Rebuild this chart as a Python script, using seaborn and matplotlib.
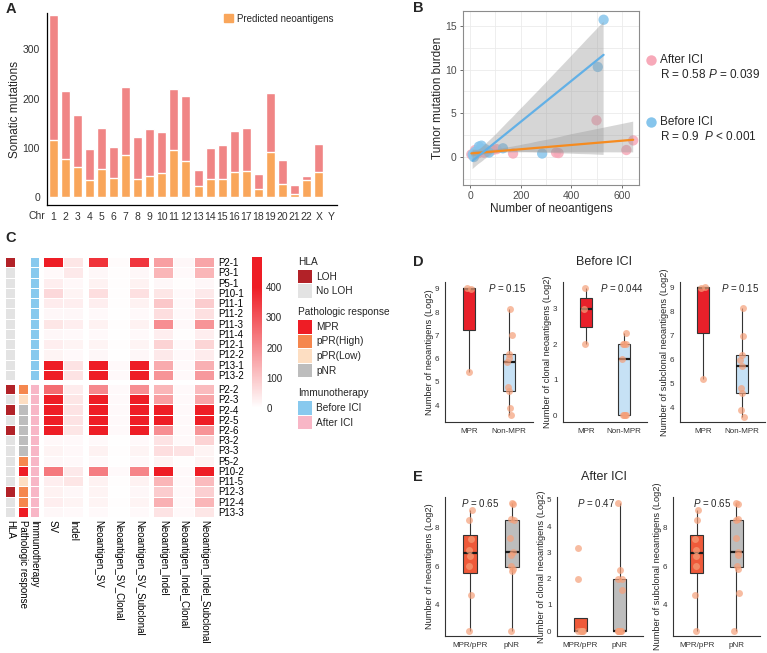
import numpy as np
import pandas as pd
import matplotlib
matplotlib.use('Agg')
import matplotlib.pyplot as plt
import seaborn as sns
from matplotlib.colors import ListedColormap, LinearSegmentedColormap
from matplotlib.patches import Rectangle
from matplotlib.transforms import blended_transform_factory

sns.set_style('white')
plt.rcParams['font.family'] = ['Liberation Sans', 'DejaVu Sans']
plt.rcParams['mathtext.fontset'] = 'custom'
plt.rcParams['mathtext.rm'] = 'Liberation Sans'
plt.rcParams['mathtext.it'] = 'Liberation Sans:italic'

# ---- panel A data
chroms = ['1', '2', '3', '4', '5', '6', '7', '8', '9', '10', '11', '12', '13', '14',
          '15', '16', '17', '18', '19', '20', '21', '22', 'X', 'Y']
somatic = [370, 215, 167, 98, 141, 102, 224, 122, 138, 133, 220, 205, 55, 99,
           105, 135, 140, 46, 212, 76, 25, 42, 107, 1]
neoantigens = [117, 77, 62, 35, 58, 38, 85, 36, 43, 48, 96, 73, 23, 37,
               36, 51, 54, 17, 91, 27, 7, 34, 51, 0]

# ---- panel B data
before_neo = [10, 15, 20, 35, 45, 60, 75, 130, 285, 505, 528, 40]
before_tmb = [0.3, 0.0, 0.6, 1.2, 1.3, 0.9, 0.5, 1.0, 0.4, 10.3, 15.7, 0.8]
after_neo = [5, 20, 55, 90, 105, 170, 340, 350, 500, 618, 645, 70, 30]
after_tmb = [0.3, 0.8, 0.5, 0.8, 0.9, 0.4, 0.5, 0.45, 4.2, 0.8, 1.9, 0.6, 0.4]

# ---- panel C data
samples_before = ['P2-1', 'P3-1', 'P5-1', 'P10-1', 'P11-1', 'P11-2', 'P11-3', 'P11-4',
                  'P12-1', 'P12-2', 'P13-1', 'P13-2']
samples_after = ['P2-2', 'P2-3', 'P2-4', 'P2-5', 'P2-6', 'P3-2', 'P3-3', 'P5-2',
                 'P10-2', 'P11-5', 'P12-3', 'P12-4', 'P13-3']
features = ['SV', 'Indel', 'Neoantigen_SV', 'Neoantigen_SV_Clonal', 'Neoantigen_SV_Subclonal',
            'Neoantigen_Indel', 'Neoantigen_Indel_Clonal', 'Neoantigen_Indel_Subclonal']
sv = [450, 10, 30, 70, 35, 15, 45, 15, 30, 20, 480, 480,
      260, 480, 480, 480, 480, 12, 20, 15, 240, 30, 25, 30, 15]
indel = [45, 40, 12, 20, 30, 15, 30, 10, 20, 10, 50, 50,
         35, 45, 50, 50, 45, 10, 12, 10, 40, 45, 15, 20, 10]
neo_sv = [360, 15, 25, 60, 30, 10, 25, 10, 20, 15, 480, 480,
          210, 480, 480, 480, 480, 10, 25, 10, 230, 25, 20, 20, 10]
neo_sv_clonal = [8, 5, 5, 5, 5, 3, 5, 3, 5, 3, 10, 10,
                 10, 10, 10, 10, 10, 3, 5, 3, 10, 5, 3, 5, 3]
neo_sv_subclonal = [355, 15, 25, 55, 25, 10, 25, 10, 20, 15, 470, 470,
                    200, 470, 470, 470, 470, 10, 20, 10, 215, 25, 15, 20, 10]
neo_indel = [170, 130, 15, 45, 100, 60, 200, 30, 80, 40, 150, 190,
             130, 170, 450, 450, 200, 50, 60, 20, 470, 130, 90, 140, 50]
neo_indel_clonal = [15, 10, 5, 10, 10, 10, 10, 5, 10, 10, 10, 10,
                    10, 10, 10, 10, 10, 10, 50, 5, 10, 10, 10, 10, 10]
neo_indel_subclonal = [160, 130, 15, 40, 90, 55, 190, 30, 75, 35, 140, 180,
                       120, 160, 440, 440, 190, 80, 20, 20, 460, 120, 85, 130, 45]
hla = ['LOH'] + ['No LOH'] * 11 + ['LOH', 'No LOH', 'LOH', 'No LOH', 'LOH', 'No LOH', 'No LOH',
                                    'No LOH', 'No LOH', 'No LOH', 'LOH', 'No LOH', 'No LOH']
response = [None] * 12 + ['pPR(High)', 'pPR(Low)', 'pNR', 'pNR', 'pNR', 'pNR', 'pNR', 'pPR(High)',
                          'MPR', 'pPR(Low)', 'pPR(High)', 'pPR(High)', 'MPR']
immuno = ['Before ICI'] * 12 + ['After ICI'] * 13

# ---- panel D / E data (log2)
d_neo_mpr = [9.05, 9.0, 5.45]
d_neo_non = [8.15, 7.0, 6.2, 6.05, 5.85, 4.8, 4.6, 3.9, 3.6]
d_clo_mpr = [3.6, 3.0, 2.0]
d_clo_non = [2.32, 2.0, 2.0, 2.0, 1.58, 0, 0, 0, 0]
d_sub_mpr = [9.05, 9.0, 5.2]
d_sub_non = [8.15, 7.0, 6.2, 6.0, 5.75, 4.8, 4.6, 3.9, 3.6]
e_neo_mp = [8.95, 8.4, 7.4, 6.85, 6.55, 6.0, 4.45, 2.6]
e_neo_pnr = [9.3, 9.25, 8.45, 8.4, 7.45, 6.75, 6.6, 6.0, 5.85, 5.75, 2.6]
e_clo_mp = [3.15, 2.0, 0, 0, 0, 0, 0, 0]
e_clo_pnr = [4.9, 2.32, 2.0, 2.0, 1.58, 0, 0, 0, 0, 0, 0]
e_sub_mp = [8.95, 8.4, 7.4, 6.85, 6.55, 6.0, 4.45, 2.6]
e_sub_pnr = [9.3, 9.25, 8.45, 8.4, 7.45, 6.75, 6.6, 6.0, 5.85, 4.6, 2.6]

W, H = 767, 653
fig = plt.figure(figsize=(W / 100, H / 100), dpi=100)


def add_ax(l, t, w, h):
    return fig.add_axes([l / W, 1 - (t + h) / H, w / W, h / H])


dark = '#333333'

# ================= A
axA = add_ax(47, 13, 290, 192)
sns.barplot(x=chroms, y=somatic, order=chroms, color='#F08585', width=0.75, saturation=1, ax=axA)
sns.barplot(x=chroms, y=neoantigens, order=chroms, color='#F9A65B', width=0.75, saturation=1, ax=axA)
axA.set_xlim(-0.5, 23.5)
axA.set_ylim(-16, 374)
axA.set_yticks([0, 100, 200, 300])
sns.despine(ax=axA)
for s in ['left', 'bottom']:
    axA.spines[s].set_color('black')
    axA.spines[s].set_linewidth(0.9)
axA.tick_params(length=3, width=0.8, labelsize=7.5, colors=dark, pad=2)
axA.set_ylabel('Somatic mutations', fontsize=8.5)
axA.yaxis.set_label_coords(-0.088, 0.5)
axA.set_xlabel('')
tr = blended_transform_factory(axA.transData, axA.transAxes)
axA.text(-1.35, -0.033, 'Chr', transform=tr, ha='center', va='top', fontsize=7.5, color=dark)
axA.legend(handles=[Rectangle((0, 0), 1, 1, color='#F9A65B')], labels=['Predicted neoantigens'],
           loc='upper left', bbox_to_anchor=(215 / W, 1 - 5 / H), bbox_transform=fig.transFigure,
           frameon=False, fontsize=7, handlelength=0.9, handleheight=0.9, handletextpad=0.5)

# ================= B
axB = add_ax(463, 11, 176, 174)
sns.scatterplot(x=after_neo, y=after_tmb, color='#F7A9B9', s=55, alpha=0.85, edgecolor='none', ax=axB)
sns.scatterplot(x=before_neo, y=before_tmb, color='#86C5EC', s=55, alpha=0.85, edgecolor='none', ax=axB)
for xs, ys, c in [(after_neo, after_tmb, '#F68B1F'), (before_neo, before_tmb, '#62B0E6')]:
    n = len(axB.collections)
    sns.regplot(x=xs, y=ys, scatter=False, color=c, seed=3, ax=axB, line_kws={'linewidth': 1.6})
    for coll in axB.collections[n:]:
        coll.set_facecolor('#9A9A9A')
        coll.set_alpha(0.4)
        coll.set_edgecolor('none')
axB.set_xlim(-28, 668)
axB.set_ylim(-3.2, 16.7)
axB.set_xticks([0, 200, 400, 600])
axB.set_xticks([100, 300, 500], minor=True)
axB.set_yticks([0, 5, 10, 15])
axB.set_yticks([-2.5, 2.5, 7.5, 12.5], minor=True)
axB.grid(which='both', color='#EBEBEB', linewidth=0.6)
axB.set_axisbelow(True)
for s in axB.spines.values():
    s.set_color('#8C8C8C')
    s.set_linewidth(0.8)
axB.tick_params(which='major', length=2.5, width=0.6, color='#555555', labelsize=7.5,
                labelcolor='#4D4D4D', pad=2, bottom=True, left=True)
axB.tick_params(which='minor', length=0)
axB.set_xlabel('Number of neoantigens', fontsize=8.5, labelpad=1)
axB.set_ylabel('Tumor mutation burden', fontsize=8.5)
axB.yaxis.set_label_coords(-0.11, 0.5)

# ================= C heatmap
mat = pd.DataFrame(dict(zip(features, [sv, indel, neo_sv, neo_sv_clonal, neo_sv_subclonal,
                                       neo_indel, neo_indel_clonal, neo_indel_subclonal])),
                   index=samples_before + samples_after)
hm_cmap = LinearSegmentedColormap.from_list('wr', [(0, '#FFFFFF'), (0.8, '#EE1D25'), (1, '#EE1D25')])

hla_levels = ['LOH', 'No LOH']
hla_colors = ['#B22228', '#E3E3E3']
resp_levels = ['MPR', 'pPR(High)', 'pPR(Low)', 'pNR']
resp_colors = ['#EE1D25', '#F5874E', '#FDDEC2', '#BDBDBD']
imm_levels = ['Before ICI', 'After ICI']
imm_colors = ['#88C9EE', '#F8B6C6']

annos = [(5, 10, 'HLA', hla, hla_levels, hla_colors),
         (18, 10, 'Pathologic response', response, resp_levels, resp_colors),
         (30, 9, 'Immunotherapy', immuno, imm_levels, imm_colors)]
col_blocks = [(43, 40, features[0:2]), (88, 61, features[2:5]), (153, 61, features[5:8])]
row_blocks = [(257, 123, samples_before), (384, 133, samples_after)]
gridlw = 0.5

mesh = None
for ri, (top, hgt, rows) in enumerate(row_blocks):
    last_row = ri == len(row_blocks) - 1
    for left, wid, name, vals, levels, colors in annos:
        codes = pd.Series(vals, index=samples_before + samples_after).map(
            {lv: i for i, lv in enumerate(levels)}).astype(float)
        df = pd.DataFrame({name: codes.loc[rows]})
        ax = add_ax(left, top, wid, hgt)
        sns.heatmap(df, ax=ax, cmap=ListedColormap(colors), vmin=-0.5, vmax=len(levels) - 0.5,
                    cbar=False, linewidths=gridlw, linecolor='white',
                    xticklabels=last_row, yticklabels=False)
        ax.set_ylabel('')
        ax.tick_params(length=0, pad=2)
        if last_row:
            ax.tick_params(axis='x', labelrotation=270, labelsize=7, labelcolor='black')
    for bi, (left, wid, cols) in enumerate(col_blocks):
        ax = add_ax(left, top, wid, hgt)
        sns.heatmap(mat.loc[rows, cols], ax=ax, cmap=hm_cmap, vmin=0, vmax=500, cbar=False,
                    linewidths=gridlw, linecolor='white', xticklabels=last_row,
                    yticklabels=(bi == len(col_blocks) - 1))
        mesh = ax.collections[0]
        ax.tick_params(length=0, pad=2)
        if last_row:
            ax.tick_params(axis='x', labelrotation=270, labelsize=7, labelcolor='black')
        if bi == len(col_blocks) - 1:
            ax.yaxis.tick_right()
            ax.tick_params(axis='y', labelrotation=0, labelsize=7, labelcolor='black', pad=3)

cax = add_ax(252, 257, 10, 151)
cb = fig.colorbar(mesh, cax=cax, ticks=[0, 100, 200, 300, 400])
cb.outline.set_visible(False)
cax.tick_params(length=0, labelsize=7, pad=3)

# ================= D / E boxplots
box_specs = [
    # left, top, width, height, groups, values, colors, ylabel, ylim, yticks, p text, p x
    (445, 282, 88, 140, ['MPR', 'Non-MPR'], (d_neo_mpr, d_neo_non), ['#E8202A', '#C6E1F5'],
     'Number of neoantigens (Log2)', (3.28, 9.3), [4, 5, 6, 7, 8, 9], '0.15', 0.95, 0.955),
    (563, 282, 84, 140, ['MPR', 'Non-MPR'], (d_clo_mpr, d_clo_non), ['#E8202A', '#C6E1F5'],
     'Number of clonal neoantigens (Log2)', (-0.19, 3.76), [0, 1, 2, 3], '0.044', 0.94, 0.955),
    (680, 282, 85, 140, ['MPR', 'Non-MPR'], (d_sub_mpr, d_sub_non), ['#E8202A', '#C6E1F5'],
     'Number of subclonal neoantigens (Log2)', (3.39, 9.25), [4, 5, 6, 7, 8, 9], '0.15', 0.95, 0.955),
    (445, 497, 92, 139, ['MPR/pPR', 'pNR'], (e_neo_mp, e_neo_pnr), ['#EF5A3A', '#BDBDBD'],
     'Number of neoantigens (Log2)', (2.32, 9.63), [4, 6, 8], '0.65', 0.24, 0.955),
    (557, 497, 86, 139, ['MPR/pPR', 'pNR'], (e_clo_mp, e_clo_pnr), ['#EF5A3A', '#BDBDBD'],
     'Number of clonal neoantigens (Log2)', (-0.19, 5.11), [0, 1, 2, 3, 4, 5], '0.47', 0.4, 0.955),
    (673, 497, 87, 139, ['MPR/pPR', 'pNR'], (e_sub_mp, e_sub_pnr), ['#EF5A3A', '#BDBDBD'],
     'Number of subclonal neoantigens (Log2)', (2.32, 9.63), [4, 6, 8], '0.65', 0.39, 0.955),
]
np.random.seed(7)
for (l, t, w, h, groups, vals, colors, ylab, ylim, yticks, ptxt, ptx, pty) in box_specs:
    ax = add_ax(l, t, w, h)
    df = pd.DataFrame({'group': [groups[0]] * len(vals[0]) + [groups[1]] * len(vals[1]),
                       'value': list(vals[0]) + list(vals[1])})
    sns.boxplot(data=df, x='group', y='value', hue='group', order=groups, hue_order=groups,
                palette=colors, width=0.32, linewidth=0.8, linecolor=dark, saturation=1,
                showcaps=False, showfliers=False, legend=False, ax=ax,
                medianprops={'color': '#1A1A1A', 'linewidth': 1.6})
    sns.stripplot(data=df, x='group', y='value', order=groups, color='#F5A07A', alpha=0.7,
                  size=5, jitter=0.07, ax=ax, zorder=3)
    ax.set_xlim(-0.6, 1.6)
    ax.set_ylim(*ylim)
    ax.set_yticks(yticks)
    sns.despine(ax=ax)
    for s in ['left', 'bottom']:
        ax.spines[s].set_color(dark)
        ax.spines[s].set_linewidth(0.8)
    ax.tick_params(length=2.5, width=0.6, labelsize=5.8, colors=dark, pad=1.5)
    ax.set_xlabel('')
    ax.set_ylabel(ylab, fontsize=6.7, labelpad=0.5)
    ax.text(ptx, pty, r'$\it{P}$ = ' + ptxt, transform=blended_transform_factory(ax.transData, ax.transAxes),
            ha='center', va='center', fontsize=7)

# ================= overlay text / legends
ov = fig.add_axes([0, 0, 1, 1])
ov.set_xlim(0, W)
ov.set_ylim(H, 0)
ov.axis('off')
for letter, x, y in [('A', 11, 9), ('B', 418, 8), ('C', 11, 238), ('D', 418, 262), ('E', 418, 477)]:
    ov.text(x, y, letter, fontsize=10.5, fontweight='bold', ha='center', va='center')
ov.text(604, 262, 'Before ICI', fontsize=9, ha='center', va='center')
ov.text(604, 477, 'After ICI', fontsize=9, ha='center', va='center')

# B legend
ov.plot([651], [60], 'o', color='#F7A9B9', markersize=7.5, markeredgewidth=0)
ov.plot([651], [122], 'o', color='#86C5EC', markersize=7.5, markeredgewidth=0)
ov.text(660, 60, 'After ICI', fontsize=8.5, va='center')
ov.text(660, 75, r'R = 0.58 $\it{P}$ = 0.039', fontsize=8.5, va='center')
ov.text(660, 122, 'Before ICI', fontsize=8.5, va='center')
ov.text(660, 137, r'R = 0.9  $\it{P}$ < 0.001', fontsize=8.5, va='center')

# C legend
leg_items = [('title', 'HLA', 262, None),
             ('item', 'LOH', 276.5, hla_colors[0]), ('item', 'No LOH', 291, hla_colors[1]),
             ('title', 'Pathologic response', 312, None),
             ('item', 'MPR', 327, resp_colors[0]), ('item', 'pPR(High)', 341.5, resp_colors[1]),
             ('item', 'pPR(Low)', 356, resp_colors[2]), ('item', 'pNR', 370.5, resp_colors[3]),
             ('title', 'Immunotherapy', 393, None),
             ('item', 'Before ICI', 408, imm_colors[0]), ('item', 'After ICI', 422.5, imm_colors[1])]
for kind, label, y, col in leg_items:
    if kind == 'title':
        ov.text(298, y, label, fontsize=7.3, va='center')
    else:
        ov.add_patch(Rectangle((298, y - 6.75), 14, 13.5, facecolor=col, edgecolor='none'))
        ov.text(316, y, label, fontsize=7.3, va='center')

fig.savefig('out.png', dpi=100)
